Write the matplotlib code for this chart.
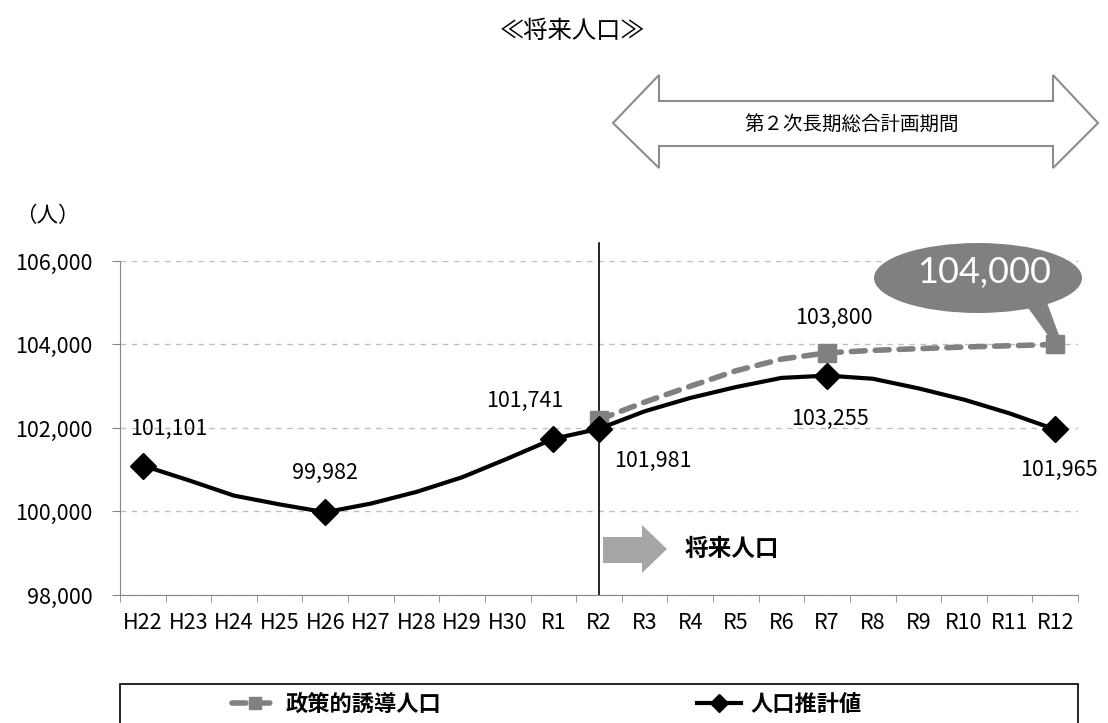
import numpy as np
import matplotlib
matplotlib.use('Agg')
import matplotlib.pyplot as plt
from matplotlib.patches import Polygon, Ellipse, Rectangle

plt.rcParams['font.family'] = ['Noto Sans CJK JP', 'DejaVu Sans']

# years on the x axis
years = ['H22', 'H23', 'H24', 'H25', 'H26', 'H27', 'H28', 'H29', 'H30',
         'R1', 'R2', 'R3', 'R4', 'R5', 'R6', 'R7', 'R8', 'R9', 'R10', 'R11', 'R12']

# population estimate (black line)
estimate = [101101, 100750, 100380, 100170, 99982, 100190, 100470, 100820,
            101270, 101741, 101981, 102400, 102720, 102980, 103200, 103255,
            103180, 102950, 102680, 102350, 101965]
estimate_marks = [0, 4, 9, 10, 15, 20]

# policy target (gray dashed line), starts at R2
policy_years = years[10:]
policy = [102200, 102620, 103000, 103370, 103650, 103800, 103860, 103900,
          103940, 103970, 104000]
policy_marks = [0, 5, 10]

yticks = [98000, 100000, 102000, 104000, 106000]

W, H = 1108, 723
gray = '#808080'

def fx(px):
    return px / W

def fy(py):
    return 1 - py / H

fig = plt.figure(figsize=(W / 100, H / 100), dpi=100)
ax = fig.add_axes([fx(120), fy(595), fx(1078) - fx(120), fy(261) - fy(595)])

x = np.arange(len(years))
xp = np.arange(10, 10 + len(policy))

line_p, = ax.plot(xp, policy, color=gray, lw=4, dashes=(2.5, 1.8),
                  dash_capstyle='round', marker='s', markersize=13,
                  markevery=policy_marks, zorder=3, label='政策的誘導人口')
line_e, = ax.plot(x, estimate, color='black', lw=3, marker='D', markersize=13.5,
                  markevery=estimate_marks, zorder=4, label='人口推計値')

ax.set_xlim(-0.5, len(years) - 0.5)
ax.set_ylim(98000, 106000)
ax.set_yticks(yticks)
ax.set_yticklabels(['{:,}'.format(v) for v in yticks], fontsize=15.5)
ax.set_xticks(x)
ax.set_xticklabels(years, fontsize=15.5)
ax.set_xticks(np.arange(-0.5, len(years)), minor=True)
ax.tick_params(axis='x', which='major', length=0, pad=12)
ax.tick_params(axis='x', which='minor', length=5, color='#868686')
ax.tick_params(axis='y', length=6, color='#868686', pad=14)
ax.yaxis.grid(True, color='#bfbfbf', ls=(0, (4, 4)), lw=1)
ax.set_axisbelow(True)
for s in ['top', 'right']:
    ax.spines[s].set_visible(False)
for s in ['left', 'bottom']:
    ax.spines[s].set_color('#868686')

# divider at R2
ax.plot([10, 10], [98000, 106430], color='black', lw=1.2, clip_on=False, zorder=2)

# value labels
def label(xv, yv, txt, dx, dy):
    ax.annotate(txt, (xv, yv), xytext=(dx * 0.72, dy * 0.72), textcoords='offset points',
                ha='center', va='center', fontsize=15.5, zorder=5)

label(0, estimate[0], '101,101', 26, 37)
label(4, estimate[4], '99,982', 0, 39)
label(9, estimate[9], '101,741', -29, 38)
label(10, estimate[10], '101,981', 54, -32)
label(15, policy[5], '103,800', 7, 35)
label(15, estimate[15], '103,255', 3, -43)
label(20, estimate[20], '101,965', 4, -40)

# 将来人口 arrow
arr = [(603, 537), (642, 537), (642, 525), (667, 549), (642, 573), (642, 563), (603, 563)]
fig.patches.append(Polygon([(fx(a), fy(b)) for a, b in arr], closed=True,
                           transform=fig.transFigure, fc='#a6a6a6', ec='none'))
fig.text(fx(732), fy(549), '将来人口', fontsize=17, fontweight='bold',
         ha='center', va='center')

# planning period double arrow
dbl = [(613, 123), (659, 75), (659, 101), (1053, 101), (1053, 75), (1098, 123),
       (1053, 168), (1053, 146), (659, 146), (659, 168)]
fig.patches.append(Polygon([(fx(a), fy(b)) for a, b in dbl], closed=True,
                           transform=fig.transFigure, fc='white', ec='#8c8c8c', lw=1.5))
fig.text(fx(852), fy(124), '第２次長期総合計画期間', fontsize=14, ha='center', va='center')

# callout bubble for the R12 target
tip = ax.transData.transform((20, policy[-1]))
tipx, tipy = tip[0], H - tip[1]
tail = [(1026, 305), (1046, 300), (tipx + 5, tipy - 6), (tipx - 5, tipy - 6)]
fig.patches.append(Polygon([(fx(a), fy(b)) for a, b in tail], closed=True,
                           transform=fig.transFigure, fc=gray, ec='none', zorder=5))
fig.patches.append(Ellipse((fx(978), fy(278)), fx(208), 70 / H,
                           transform=fig.transFigure, fc=gray, ec='none', zorder=5))
fig.text(fx(984), fy(272), '104,000', fontsize=26, color='white', family='Lato',
         ha='center', va='center', zorder=6)

fig.text(fx(572), fy(31), '≪将来人口≫', fontsize=17.5, ha='center', va='center')
fig.text(fx(47), fy(216), '（人）', fontsize=15.5, ha='center', va='center')

# legend box
fig.patches.append(Rectangle((fx(120), -0.02), fx(958), fy(684) + 0.02, fill=False,
                             ec='black', lw=1.2, transform=fig.transFigure))
fig.legend(handles=[line_p, line_e], loc='center', bbox_to_anchor=(fx(547), fy(704)),
           ncol=2, frameon=False, prop={'size': 16, 'weight': 'bold'},
           columnspacing=11.5, handlelength=2.0, markerscale=0.65, handletextpad=0.4)

fig.savefig('out.png', dpi=100)
